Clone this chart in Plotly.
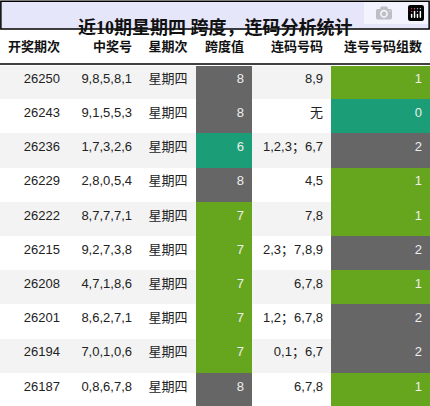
import plotly.graph_objects as go

periods = ["26250","26243","26236","26229","26222","26215","26208","26201","26194","26187"]
numbers = ["9,8,5,8,1","9,1,5,5,3","1,7,3,2,6","2,8,0,5,4","8,7,7,7,1","9,2,7,3,8","4,7,1,8,6","8,6,2,7,1","7,0,1,0,6","0,8,6,7,8"]
weekday = ["星期四"]*10
span = [8,8,6,8,7,7,7,7,7,8]
consec = ["8,9","无","1,2,3；6,7","4,5","7,8","2,3；7,8,9","6,7,8","1,2；6,7,8","0,1；6,7","6,7,8"]
groups = [1,0,2,1,1,2,1,2,2,1]
headers = ["开奖期次","中奖号","星期次","跨度值","连码号码","连号号码组数"]

GRAY, GREEN, TEAL = "#666666", "#66a61e", "#1b9e77"
def span_col(v): return {8: GRAY, 6: TEAL, 7: GREEN}.get(v, GRAY)
def grp_col(v): return {0: TEAL, 1: GREEN, 2: GRAY}.get(v, GRAY)
rowbg = ["#f3f3f3" if i % 2 == 0 else "#ffffff" for i in range(10)]

fills = [rowbg, rowbg, rowbg, [span_col(v) for v in span], rowbg, [grp_col(v) for v in groups]]
fcol = [["#222"]*10]*3 + [["#eeeeee"]*10, ["#222"]*10, ["#eeeeee"]*10]

W, H, T = 430, 406, 31
fig = go.Figure(go.Table(
    columnwidth=[68, 72, 56, 56, 79, 99],
    domain=dict(x=[0, 1], y=[0, (H - T) / H]),
    header=dict(values=[f"<b>{h}</b>" for h in headers], height=34,
                fill_color="white", line_color="white",
                align=["right", "right", "center", "right", "right", "right"],
                font=dict(size=13, color="#111", family="Liberation Sans, Noto Sans CJK SC")),
    cells=dict(values=[periods, numbers, weekday, span, consec, groups], height=34.2,
               fill_color=fills, line_color=fills, line_width=0,
               align=["right", "right", "center", "right", "right", "right"],
               font=dict(size=13, color=fcol, family="Liberation Sans, Noto Sans CJK SC")),
))
fig.update_layout(
    width=W, height=H, margin=dict(l=0, r=0, t=0, b=0), paper_bgcolor="white",
    shapes=[
        dict(type="rect", xref="paper", yref="paper", x0=0.002, x1=0.998, y0=(H - 29) / H, y1=0.997,
             fillcolor="#e6e6fa", line=dict(color="black", width=1.5), layer="below"),
        dict(type="line", xref="paper", yref="paper", x0=0, x1=1, y0=(H - 64) / H, y1=(H - 64) / H,
             line=dict(color="black", width=1.5)),
    ],
    annotations=[dict(text="<b>近10期星期四 跨度，连码分析统计</b>", xref="paper", yref="paper",
                      x=0.5, y=(H - 14.5) / H, showarrow=False,
                      font=dict(size=18, color="#111", family="Liberation Serif, Noto Sans CJK SC"))],
)
fig.write_html("out.html", post_script="document.body.style.margin='0';document.body.style.overflow='hidden';")
